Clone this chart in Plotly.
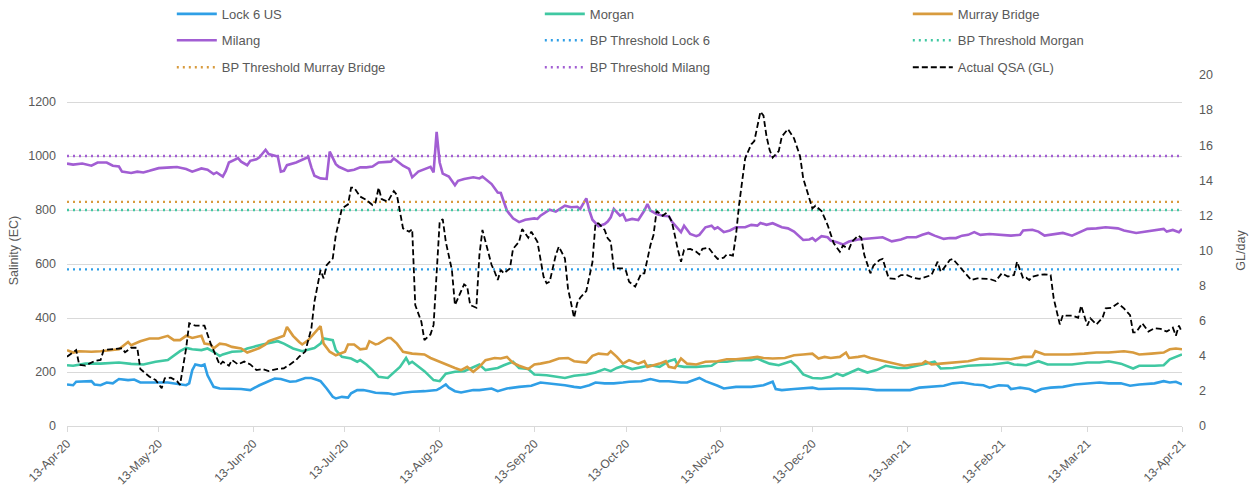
import pandas as pd
import plotly.graph_objects as go

START = pd.Timestamp("2020-04-13")

# ---- data (day offsets from 13-Apr-20) ----
lock6_days = [0, 2, 3, 8, 9, 11, 13, 15, 17, 20, 22, 24, 28, 33, 39, 40, 41, 42, 44, 45, 46, 48, 50, 54, 57, 60, 63, 68, 70, 73, 75, 78, 80, 82, 83, 85, 87, 88, 90, 92, 93, 95, 97, 99, 101, 105, 107, 110, 113, 117, 121, 122, 124, 125, 127, 129, 133, 135, 139, 141, 144, 148, 152, 155, 158, 163, 166, 168, 171, 173, 176, 179, 182, 184, 188, 191, 194, 197, 201, 203, 207, 209, 213, 215, 219, 224, 228, 231, 232, 234, 238, 241, 244, 246, 250, 253, 257, 262, 265, 268, 273, 276, 279, 284, 287, 290, 293, 297, 300, 302, 305, 308, 309, 312, 315, 317, 319, 322, 326, 330, 335, 338, 341, 345, 348, 351, 356, 359, 361, 363, 365]
lock6_ec = [154, 151, 164, 166, 154, 151, 161, 158, 174, 170, 172, 161, 161, 161, 151, 158, 207, 228, 223, 228, 188, 145, 139, 139, 137, 133, 151, 176, 174, 164, 166, 178, 178, 170, 166, 139, 108, 102, 108, 105, 121, 133, 133, 129, 123, 121, 117, 123, 127, 129, 133, 139, 154, 142, 129, 124, 133, 133, 139, 129, 139, 145, 149, 161, 158, 151, 145, 142, 151, 161, 158, 158, 161, 164, 166, 174, 166, 166, 161, 161, 178, 166, 149, 139, 145, 145, 151, 164, 137, 133, 137, 139, 142, 137, 139, 139, 139, 137, 133, 133, 133, 133, 142, 145, 149, 158, 161, 154, 151, 142, 151, 149, 137, 142, 137, 127, 137, 142, 145, 154, 158, 161, 158, 158, 149, 154, 158, 166, 161, 164, 154]

morgan_days = [0, 2, 6, 11, 17, 21, 25, 29, 33, 35, 37, 39, 41, 44, 46, 48, 50, 51, 54, 57, 59, 61, 64, 69, 71, 74, 77, 81, 83, 84, 87, 88, 90, 93, 95, 96, 98, 100, 102, 105, 106, 109, 111, 112, 113, 115, 117, 120, 122, 124, 127, 130, 133, 135, 137, 141, 143, 146, 148, 151, 153, 157, 163, 166, 170, 173, 176, 178, 180, 182, 185, 188, 191, 194, 197, 199, 200, 202, 206, 211, 213, 216, 219, 224, 226, 228, 230, 233, 237, 239, 241, 244, 247, 250, 252, 254, 259, 262, 265, 268, 272, 275, 279, 284, 286, 290, 295, 299, 303, 308, 310, 314, 318, 321, 326, 329, 334, 338, 341, 345, 349, 351, 356, 359, 361, 363, 365]
morgan_ec = [225, 223, 231, 231, 235, 230, 228, 238, 244, 262, 277, 289, 284, 281, 287, 275, 259, 265, 275, 277, 287, 293, 302, 314, 305, 287, 277, 289, 305, 324, 318, 281, 256, 250, 238, 244, 228, 207, 182, 178, 188, 219, 252, 231, 238, 219, 203, 170, 166, 194, 201, 203, 219, 228, 207, 215, 225, 238, 215, 211, 191, 188, 178, 186, 191, 198, 211, 203, 215, 223, 211, 219, 225, 219, 240, 247, 223, 219, 219, 223, 238, 238, 244, 244, 250, 240, 231, 225, 240, 219, 191, 178, 176, 182, 194, 186, 211, 198, 207, 223, 215, 215, 225, 238, 213, 215, 223, 225, 228, 235, 228, 225, 240, 228, 228, 228, 235, 235, 240, 231, 213, 223, 223, 225, 247, 256, 265]

murray_days = [0, 2, 4, 8, 11, 14, 17, 20, 21, 24, 27, 30, 33, 35, 37, 39, 41, 44, 45, 47, 48, 50, 52, 54, 57, 59, 62, 63, 65, 66, 69, 71, 72, 74, 76, 77, 79, 81, 83, 84, 86, 88, 91, 92, 94, 96, 98, 99, 101, 102, 105, 106, 108, 110, 113, 117, 119, 122, 124, 127, 129, 131, 133, 135, 137, 140, 142, 144, 146, 148, 151, 153, 155, 158, 161, 164, 166, 168, 170, 172, 174, 177, 178, 180, 182, 184, 187, 189, 190, 192, 194, 196, 197, 199, 200, 201, 203, 206, 209, 213, 216, 219, 223, 226, 228, 231, 235, 238, 241, 244, 246, 248, 250, 253, 255, 256, 259, 261, 263, 266, 271, 274, 277, 280, 281, 283, 286, 290, 295, 299, 303, 306, 309, 313, 316, 317, 320, 324, 328, 333, 337, 341, 346, 349, 351, 355, 359, 361, 363, 365]
murray_ec = [281, 272, 277, 275, 277, 281, 284, 311, 299, 314, 324, 324, 334, 318, 318, 334, 326, 334, 305, 302, 287, 305, 302, 293, 287, 272, 284, 289, 302, 314, 326, 334, 367, 334, 311, 302, 318, 342, 370, 305, 275, 262, 275, 302, 302, 284, 287, 314, 302, 305, 326, 326, 305, 275, 268, 265, 252, 238, 228, 215, 207, 219, 201, 219, 244, 252, 250, 256, 234, 223, 211, 228, 231, 238, 250, 252, 240, 238, 235, 260, 268, 265, 277, 256, 231, 244, 231, 240, 219, 225, 231, 240, 219, 215, 231, 250, 231, 228, 238, 240, 247, 247, 252, 256, 252, 250, 252, 262, 265, 268, 250, 256, 252, 256, 272, 252, 256, 260, 252, 244, 231, 223, 228, 231, 240, 228, 231, 235, 240, 250, 250, 248, 247, 256, 256, 277, 265, 265, 265, 268, 272, 272, 277, 272, 265, 268, 272, 284, 287, 284]

milang_days = [0, 2, 5, 8, 10, 13, 15, 17, 18, 21, 23, 25, 27, 30, 34, 36, 39, 41, 44, 46, 48, 49, 51, 52, 53, 56, 57, 59, 60, 62, 63, 65, 66, 68, 69, 70, 71, 72, 75, 77, 79, 80, 81, 83, 85, 86, 88, 89, 92, 94, 96, 98, 100, 102, 106, 107, 110, 112, 113, 115, 117, 119, 120, 121, 122, 123, 125, 127, 128, 130, 133, 135, 136, 139, 141, 142, 144, 146, 148, 150, 153, 154, 155, 158, 160, 163, 165, 167, 168, 170, 171, 172, 174, 176, 177, 178, 179, 181, 182, 183, 185, 187, 189, 190, 191, 193, 195, 197, 198, 200, 201, 202, 204, 206, 207, 209, 211, 212, 213, 215, 217, 219, 222, 224, 226, 227, 229, 231, 234, 236, 238, 241, 243, 244, 245, 247, 249, 250, 252, 254, 256, 259, 262, 264, 267, 270, 273, 275, 278, 280, 282, 284, 287, 289, 291, 293, 295, 297, 299, 302, 305, 309, 312, 313, 316, 318, 320, 323, 326, 329, 332, 334, 337, 340, 344, 346, 350, 352, 356, 359, 360, 362, 364, 365]
milang_ec = [972, 968, 972, 964, 976, 976, 964, 961, 942, 937, 942, 939, 945, 955, 958, 959, 952, 942, 954, 949, 933, 939, 924, 945, 976, 992, 979, 966, 982, 988, 995, 1023, 1007, 1001, 998, 942, 945, 966, 976, 986, 996, 958, 927, 917, 915, 1016, 970, 960, 945, 949, 958, 958, 961, 976, 979, 991, 964, 952, 921, 942, 952, 960, 939, 1089, 976, 935, 924, 892, 908, 915, 921, 917, 924, 896, 865, 863, 798, 769, 755, 764, 769, 767, 779, 801, 794, 816, 810, 812, 804, 843, 798, 764, 740, 748, 757, 773, 804, 779, 785, 761, 767, 763, 798, 822, 798, 785, 779, 777, 757, 730, 718, 742, 711, 703, 708, 736, 742, 730, 736, 718, 724, 736, 736, 745, 742, 752, 745, 751, 736, 732, 720, 689, 691, 696, 686, 703, 699, 687, 681, 672, 683, 691, 693, 696, 699, 684, 691, 699, 699, 708, 715, 705, 693, 696, 696, 705, 708, 718, 708, 711, 708, 705, 708, 724, 727, 720, 705, 711, 715, 705, 720, 730, 732, 736, 732, 724, 715, 718, 724, 730, 720, 726, 718, 730]

qsa_days = [0, 3, 4, 6, 9, 11, 12, 15, 18, 19, 21, 23, 24, 27, 29, 31, 32, 34, 36, 37, 39, 40, 42, 45, 47, 50, 51, 53, 54, 56, 58, 60, 62, 64, 66, 69, 71, 73, 75, 76, 78, 80, 81, 83, 84, 85, 87, 88, 90, 92, 93, 94, 96, 98, 100, 101, 102, 103, 105, 107, 108, 110, 112, 113, 114, 116, 117, 119, 120, 122, 123, 124, 126, 127, 128, 130, 131, 132, 134, 135, 136, 137, 139, 140, 141, 142, 143, 145, 146, 148, 149, 151, 152, 154, 156, 157, 158, 160, 161, 163, 164, 166, 167, 168, 170, 172, 173, 174, 176, 177, 178, 179, 182, 183, 184, 186, 188, 189, 191, 192, 193, 195, 196, 197, 198, 200, 201, 202, 204, 206, 207, 208, 210, 212, 213, 215, 216, 218, 219, 220, 221, 222, 224, 225, 227, 228, 229, 230, 231, 233, 234, 236, 238, 240, 241, 243, 244, 245, 247, 249, 250, 251, 253, 254, 256, 257, 259, 260, 261, 263, 264, 266, 267, 268, 269, 271, 273, 275, 277, 279, 281, 283, 285, 286, 287, 289, 290, 292, 295, 296, 298, 300, 302, 304, 306, 308, 310, 311, 313, 314, 315, 316, 318, 320, 322, 323, 325, 326, 327, 329, 331, 332, 333, 334, 335, 337, 339, 340, 342, 344, 346, 348, 349, 350, 352, 354, 356, 358, 360, 362, 363, 364, 365]
qsa_gl = [3.95, 4.33, 3.48, 3.44, 3.70, 3.76, 4.33, 4.39, 4.43, 4.20, 4.46, 4.46, 3.25, 2.81, 2.62, 2.15, 2.72, 2.75, 2.56, 2.34, 4.43, 5.85, 5.72, 5.72, 4.71, 3.48, 3.67, 3.44, 3.76, 3.51, 3.67, 3.51, 3.19, 3.25, 3.13, 3.25, 3.29, 3.51, 3.76, 3.95, 4.24, 5.57, 7.08, 8.89, 8.41, 9.17, 9.55, 10.88, 12.40, 12.63, 13.58, 13.58, 13.07, 12.88, 12.59, 12.74, 13.58, 12.93, 12.78, 13.39, 13.16, 11.26, 11.07, 11.22, 6.89, 5.94, 4.90, 5.22, 5.76, 11.64, 11.79, 10.50, 8.89, 6.89, 7.27, 8.07, 7.94, 6.89, 6.74, 9.74, 11.17, 10.50, 9.17, 8.79, 8.32, 8.89, 8.70, 8.98, 10.09, 10.50, 11.22, 10.73, 11.07, 10.50, 8.51, 8.13, 8.22, 9.74, 10.22, 9.55, 7.84, 6.17, 6.99, 7.31, 7.69, 9.33, 11.55, 11.55, 11.17, 10.69, 10.50, 8.98, 8.98, 8.83, 8.22, 7.94, 8.70, 8.70, 10.31, 10.88, 12.25, 11.98, 12.12, 11.98, 11.64, 10.03, 9.36, 10.03, 10.09, 9.93, 9.78, 10.09, 10.16, 9.71, 9.52, 9.59, 9.78, 9.71, 10.88, 12.59, 13.88, 15.25, 16.05, 16.24, 17.91, 17.68, 16.49, 15.73, 15.29, 15.67, 16.49, 16.92, 16.39, 15.35, 14.11, 12.97, 12.40, 12.55, 12.25, 11.45, 10.88, 10.41, 9.93, 10.28, 10.09, 10.50, 10.85, 10.73, 9.74, 8.70, 9.14, 9.46, 9.52, 8.98, 8.41, 8.38, 8.60, 8.60, 8.45, 8.38, 8.51, 8.60, 9.36, 8.79, 8.98, 9.46, 9.52, 9.14, 8.51, 8.32, 8.41, 8.38, 8.38, 8.26, 8.70, 8.51, 8.60, 9.36, 8.41, 8.45, 8.32, 8.51, 8.60, 8.64, 8.60, 7.27, 5.79, 6.32, 6.29, 6.29, 6.17, 6.86, 6.23, 5.72, 6.13, 5.79, 6.17, 6.70, 6.74, 6.99, 6.70, 6.32, 5.34, 5.34, 5.85, 5.38, 5.57, 5.53, 5.38, 5.60, 5.15, 5.72, 5.34]

threshold_names = ["BP Threshold Lock 6", "BP Threshold Morgan", "BP Threshold Murray Bridge", "BP Threshold Milang"]
threshold_values = [580, 800, 830, 1000]

xtick_dates = ["2020-04-13", "2020-05-13", "2020-06-13", "2020-07-13", "2020-08-13", "2020-09-13",
               "2020-10-13", "2020-11-13", "2020-12-13", "2021-01-13", "2021-02-13", "2021-03-13", "2021-04-13"]
xtick_labels = ["13-Apr-20", "13-May-20", "13-Jun-20", "13-Jul-20", "13-Aug-20", "13-Sep-20",
                "13-Oct-20", "13-Nov-20", "13-Dec-20", "13-Jan-21", "13-Feb-21", "13-Mar-21", "13-Apr-21"]
END_DAY = 365

# ---- styling ----
BLUE, TEAL, ORANGE, PURPLE = "#2f9fe6", "#40c8a2", "#d89b3e", "#a25ed3"
FONT = "Liberation Sans"
GREY_TXT = "#595959"
GRID = "#d9d9d9"


def to_dates(days):
    return START + pd.to_timedelta(days, unit="D")


fig = go.Figure()

series = [
    ("Lock 6 US", lock6_days, lock6_ec, BLUE, "legend"),
    ("Morgan", morgan_days, morgan_ec, TEAL, "legend"),
    ("Murray Bridge", murray_days, murray_ec, ORANGE, "legend"),
    ("Milang", milang_days, milang_ec, PURPLE, "legend2"),
]
for name, d, v, c, lg in series:
    fig.add_trace(go.Scatter(x=to_dates(d), y=v, name=name, mode="lines",
                             line=dict(color=c, width=2.6), legend=lg, hoverinfo="skip"))

th_colors = [BLUE, TEAL, ORANGE, PURPLE]
th_legends = ["legend2", "legend2", "legend3", "legend3"]
for name, val, c, lg in zip(threshold_names, threshold_values, th_colors, th_legends):
    fig.add_trace(go.Scatter(x=to_dates([0, END_DAY]), y=[val, val], name=name, mode="lines",
                             line=dict(color=c, width=2.4, dash="2px,4px"), legend=lg, hoverinfo="skip"))

fig.add_trace(go.Scatter(x=to_dates(qsa_days), y=qsa_gl, name="Actual QSA (GL)", mode="lines",
                         line=dict(color="black", width=1.8, dash="6px,3px"), yaxis="y2",
                         legend="legend3", hoverinfo="skip"))

leg_common = dict(orientation="h", xanchor="left", yanchor="middle", x=0.094,
                  entrywidth=313, entrywidthmode="pixels", itemwidth=40,
                  font=dict(family=FONT, size=13, color=GREY_TXT), bgcolor="rgba(0,0,0,0)",
                  traceorder="normal")

fig.update_layout(
    width=1252, height=487,
    margin=dict(l=67, r=70, t=75, b=61, autoexpand=False),
    paper_bgcolor="white", plot_bgcolor="white",
    font=dict(family=FONT, size=12, color=GREY_TXT),
    showlegend=True,
    legend=dict(leg_common, y=1.174),
    legend2=dict(leg_common, y=1.099),
    legend3=dict(leg_common, y=1.022),
    xaxis=dict(range=to_dates([0, END_DAY]), tickvals=xtick_dates, ticktext=xtick_labels,
               tickangle=-45, showgrid=False, showline=True, linecolor=GRID, linewidth=1,
               ticks="outside", tickcolor=GRID, ticklen=5, zeroline=False,
               tickfont=dict(family=FONT, size=12, color=GREY_TXT)),
    yaxis=dict(range=[0, 1300], tickvals=[0, 200, 400, 600, 800, 1000, 1200], showgrid=True,
               gridcolor=GRID, gridwidth=1, zeroline=False, showline=False,
               ticks="", ticklabelstandoff=10,
               title=dict(text="Salinity (EC)", standoff=6, font=dict(family=FONT, size=12.5, color=GREY_TXT)),
               tickfont=dict(family=FONT, size=12.5, color=GREY_TXT)),
    yaxis2=dict(range=[0, 20], tickvals=list(range(0, 21, 2)), overlaying="y", side="right",
                showgrid=False, zeroline=False, showline=False, ticks="", ticklabelstandoff=16,
                title=dict(text="GL/day", standoff=24, font=dict(family=FONT, size=12.5, color=GREY_TXT)),
                tickfont=dict(family=FONT, size=12.5, color=GREY_TXT)),
)

fig.write_html("out.html", config={"displayModeBar": False},
               post_script="document.body.style.margin='0px';document.body.style.overflow='hidden';")
